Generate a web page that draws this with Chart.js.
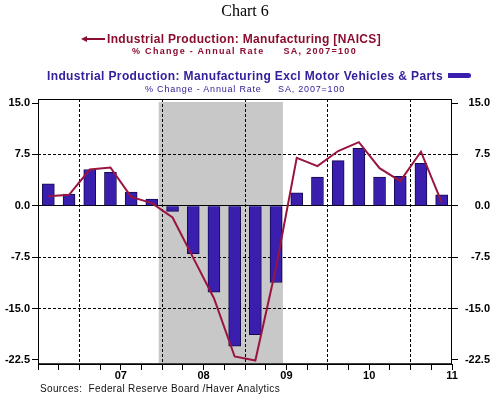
<!DOCTYPE html>
<html>
<head>
<meta charset="utf-8">
<script src="https://cdn.jsdelivr.net/npm/chart.js@4.4.0/dist/chart.umd.min.js"></script>
<style>
  body { margin: 0; background: #fff; }
  #wrap { position: relative; width: 503px; height: 397px; overflow: hidden; }
  #wrap canvas { position: absolute; left: 0; top: 0; }
  .t { position: absolute; white-space: pre; line-height: 1; font-family: "Liberation Sans", Arial, sans-serif; }
  .red { color: #8b0d30; }
  .blue { color: #34209c; }
</style>
</head>
<body>
<div id="wrap">
  <canvas id="myChart" width="503" height="397"></canvas>
  <div class="t" id="title" style="font-family:'Liberation Serif','Times New Roman',serif;font-size:16px;left:0;width:490px;text-align:center;top:3px;">Chart 6</div>
  <div id="arrowLine" style="position:absolute;left:85px;top:37.5px;width:20px;height:2px;background:#8b0d30;"></div>
  <div id="arrowHead" style="position:absolute;left:81px;top:35.5px;width:0;height:0;border-top:3px solid transparent;border-bottom:3px solid transparent;border-right:6px solid #8b0d30;"></div>
  <div class="t red" id="l1" data-w="274" style="font-weight:bold;font-size:12px;left:107px;top:32.5px;">Industrial Production: Manufacturing [NAICS]</div>
  <div class="t red" id="l2" data-w="225" style="font-weight:bold;font-size:9px;left:132px;top:47px;">% Change - Annual Rate     SA, 2007=100</div>
  <div class="t blue" id="l3" data-w="396" style="font-weight:bold;font-size:12px;left:47px;top:69.5px;">Industrial Production: Manufacturing Excl Motor Vehicles &amp; Parts</div>
  <div id="barKey" style="position:absolute;left:448px;top:73px;width:23px;height:5px;background:#3a1fae;border-radius:0 3px 3px 0;"></div>
  <div class="t blue" id="l4" data-w="200" style="font-size:9px;left:145px;top:84.5px;">% Change - Annual Rate     SA, 2007=100</div>
  <div class="t" id="src" data-w="240" style="font-size:10px;left:40px;top:383.5px;color:#111;">Sources:  Federal Reserve Board /Haver Analytics</div>
</div>
<script>
// quarterly data, 2006Q3 - 2011Q2
const quarters = ['2006Q3', '2006Q4', '2007Q1', '2007Q2', '2007Q3', '2007Q4', '2008Q1', '2008Q2', '2008Q3', '2008Q4',
                  '2009Q1', '2009Q2', '2009Q3', '2009Q4', '2010Q1', '2010Q2', '2010Q3', '2010Q4', '2011Q1', '2011Q2'];
const mfgNaics = [1.4, 1.6, 5.3, 5.6, 1.3, 0.4, -1.7, -7.6, -13.5, -22.0,
                  -22.6, -9.0, 7.0, 5.8, 8.0, 9.3, 5.5, 3.6, 7.9, 0.5];
const mfgExMotor = [3.2, 1.7, 5.3, 4.9, 2.0, 1.0, -0.8, -7.0, -12.6, -20.5,
                    -18.8, -11.2, 1.9, 4.2, 6.6, 8.4, 4.2, 4.3, 6.2, 1.6];
const yearLabels = ['07', '08', '09', '10', '11'];
const yTicks = [-22.5, -15, -7.5, 0, 7.5, 15];
const recession = ['2007-12', '2009-06'];

// quarter index of a month (mid-month), counted from the first quarter
function monthToX(ym) {
  const y0 = +quarters[0].slice(0, 4), m0 = (+quarters[0].slice(5) - 1) * 3 + 1;
  const [y, m] = ym.split('-').map(Number);
  return ((y - y0) * 12 + (m - m0) + 0.5) / 3;
}
const yearStarts = quarters.map((q, i) => q.endsWith('Q1') ? i : -1).filter(i => i >= 0);

const fontBold = { family: "'Liberation Sans', Arial, sans-serif", size: 11, weight: 'bold', lineHeight: 1 };

const chartDecor = {
  id: 'chartDecor',
  beforeDraw(chart) {
    const { ctx, chartArea: a, scales: { x } } = chart;
    ctx.save();
    ctx.fillStyle = '#c8c8c8';
    const x1 = x.getPixelForValue(monthToX(recession[0]));
    const x2 = x.getPixelForValue(monthToX(recession[1]));
    ctx.fillRect(x1, a.top + 3, x2 - x1, a.bottom - a.top - 4);
    ctx.restore();
  },
  afterDraw(chart) {
    const { ctx, chartArea: a } = chart;
    ctx.save();
    ctx.strokeStyle = '#000';
    ctx.lineWidth = 1;
    ctx.strokeRect(a.left + 0.5, a.top + 0.5, a.right - a.left - 1, a.bottom - a.top);
    ctx.lineWidth = 1.5;
    ctx.beginPath();
    ctx.moveTo(a.left, a.bottom);
    ctx.lineTo(a.right, a.bottom);
    ctx.stroke();
    ctx.restore();
  }
};

const ctx = document.getElementById('myChart');

new Chart(ctx, {
  type: 'bar',
  data: {
    datasets: [{
      type: 'line',
      label: 'Industrial Production: Manufacturing [NAICS]',
      data: mfgNaics.map((v, i) => ({ x: i + 0.5, y: v })),
      borderColor: '#9a1440',
      borderWidth: 2,
      pointRadius: 0,
      tension: 0,
      order: 0,
      yAxisID: 'y'
    },
    {
      label: 'Industrial Production: Manufacturing Excl Motor Vehicles & Parts',
      data: mfgExMotor.map((v, i) => ({ x: i + 0.5, y: v })),
      backgroundColor: '#3a1fae',
      borderColor: '#140a50',
      borderWidth: 1,
      barThickness: 12,
      order: 1,
      yAxisID: 'y'
    }]
  },
  options: {
    responsive: false,
    animation: false,
    layout: { padding: { left: 0, right: 13, top: 99, bottom: 0 } },
    plugins: {
      legend: { display: false },
      tooltip: { enabled: false }
    },
    scales: {
      x: {
        type: 'linear',
        offset: false,
        min: 0,
        max: quarters.length,
        afterBuildTicks: s => { s.ticks = quarters.map((q, i) => ({ value: i })).concat([{ value: quarters.length }]); },
        afterFit: s => { s.height = 33; },
        ticks: {
          autoSkip: false,
          maxRotation: 0,
          padding: 0,
          color: '#000',
          font: fontBold,
          callback: v => {
            const k = yearStarts.indexOf(v - 2);
            return k >= 0 ? yearLabels[k] : '';
          }
        },
        grid: {
          offset: false,
          color: c => c.tick && yearStarts.includes(c.tick.value) ? '#000' : 'rgba(0,0,0,0)',
          tickColor: '#000',
          tickLength: 6
        },
        border: { display: false, dash: [3, 2] }
      },
      y: {
        position: 'left',
        min: -23.1,
        max: 15.6,
        afterBuildTicks: s => { s.ticks = yTicks.map(v => ({ value: v })); },
        afterFit: s => { s.width = 38; },
        ticks: { color: '#000', font: fontBold, padding: 2, callback: v => v.toFixed(1) },
        grid: {
          color: c => (c.index > 0 && c.index < yTicks.length - 1 && c.tick.value !== 0) ? '#000' : 'rgba(0,0,0,0)',
          tickColor: '#000',
          tickLength: 6
        },
        border: { display: false, dash: [3, 2] }
      },
      y2: {
        position: 'right',
        min: -23.1,
        max: 15.6,
        afterBuildTicks: s => { s.ticks = yTicks.map(v => ({ value: v })); },
        afterFit: s => { s.width = 38; },
        ticks: { color: '#000', font: fontBold, crossAlign: 'far', callback: v => v.toFixed(1) },
        grid: {
          color: c => c.tick && c.tick.value === 0 ? '#000' : 'rgba(0,0,0,0)',
          tickColor: '#000',
          tickLength: 6
        },
        border: { display: false }
      }
    }
  },
  plugins: [chartDecor]
});

// stretch header / source text to the widths in the picture
document.querySelectorAll('[data-w]').forEach(el => {
  const w = +el.dataset.w;
  const n = el.textContent.length;
  const natural = el.getBoundingClientRect().width;
  el.style.letterSpacing = ((w - natural) / n) + 'px';
});
</script>
</body>
</html>
